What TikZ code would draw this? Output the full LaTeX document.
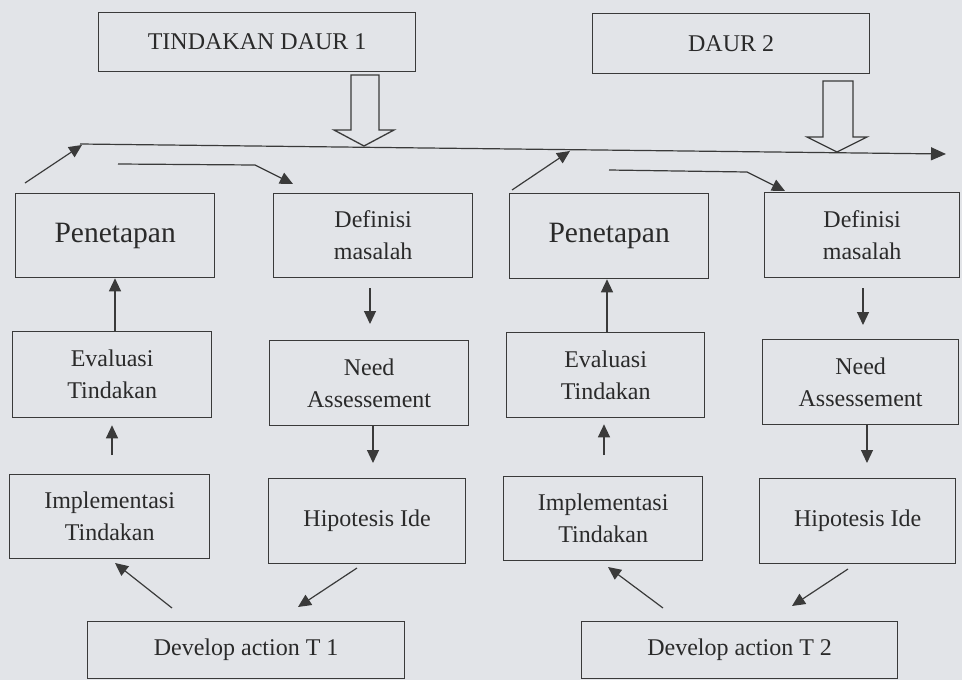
\documentclass[tikz,border=0pt]{standalone}
\usepackage{fontspec}
\setmainfont{Liberation Serif}
\usetikzlibrary{arrows.meta}
\definecolor{bg}{HTML}{E2E4E8}
\definecolor{ink}{HTML}{3A3A3A}
\definecolor{txt}{HTML}{2A2A2A}
\tikzset{
  box/.style={draw=ink, line width=1.3pt, fill=bg, inner sep=0pt, align=center,
    anchor=north west, text=txt, font=\fontsize{24}{32}\selectfont},
  big/.style={font=\fontsize{29.5}{32}\selectfont},
  arr/.style={draw=ink, line width=1.2pt, -{Triangle[length=13pt,width=12pt]}},
  ln/.style={draw=ink, line width=1.2pt},
  blockarr/.style={draw=ink, line width=1.3pt, fill=bg, line join=miter}
}
\begin{document}
\begin{tikzpicture}[x=1pt,y=-1pt]
\fill[bg] (0,0) rectangle (962,680);
\useasboundingbox (0,0) rectangle (962,680);

% ---------- left cycle ----------
\node[box, minimum width=317pt, minimum height=59pt] (t1) at (98,12) {TINDAKAN DAUR 1};
\node[box, big, minimum width=199pt, minimum height=84pt] (p1) at (15,193) {Penetapan};
\node[box, minimum width=199pt, minimum height=84pt] (d1) at (273,193) {Definisi\\masalah};
\node[box, minimum width=199pt, minimum height=86pt] (e1) at (12,331) {Evaluasi\\Tindakan};
\node[box, minimum width=199pt, minimum height=85pt] (n1) at (269,340) {Need\\Assessement};
\node[box, minimum width=200pt, minimum height=84pt] (i1) at (9,474) {Implementasi\\Tindakan};
\node[box, minimum width=197pt, minimum height=85pt] (h1) at (268,478) {Hipotesis Ide};
\node[box, minimum width=317pt, minimum height=57pt] (dv1) at (87,621) {Develop action T 1};

% ---------- right cycle ----------
\node[box, minimum width=277pt, minimum height=60pt] (t2) at (592,13) {DAUR 2};
\node[box, big, minimum width=199pt, minimum height=85pt] (p2) at (509,193) {Penetapan};
\node[box, minimum width=195pt, minimum height=85pt] (d2) at (764,192) {Definisi\\masalah};
\node[box, minimum width=198pt, minimum height=85pt] (e2) at (506,332) {Evaluasi\\Tindakan};
\node[box, minimum width=196pt, minimum height=85pt] (n2) at (762,339) {Need\\Assessement};
\node[box, minimum width=199pt, minimum height=84pt] (i2) at (503,476) {Implementasi\\Tindakan};
\node[box, minimum width=196pt, minimum height=85pt] (h2) at (759,478) {Hipotesis Ide};
\node[box, minimum width=316pt, minimum height=57pt] (dv2) at (581,621) {Develop action T 2};

% ---------- main time line ----------
\coordinate (L0) at (80,144);
\coordinate (L1) at (946,154);
\draw[ln, -{Triangle[length=15pt,width=13pt]}] (L0) -- (L1);

% block arrows
\draw[blockarr] (351,75) -- (379,75) -- (379,130) -- (394,130) -- (364,146) -- (334,130) -- (351,130) -- cycle;
\draw[blockarr] (823,81) -- (853,81) -- (853,137) -- (867,137) -- (837,152) -- (807,137) -- (823,137) -- cycle;

% arrows near top (left)
\coordinate (pa1) at (25,183);
\coordinate (pb1) at (82,145);
\draw[arr] (pa1) -- (pb1);
\coordinate (qa1) at (118,164);
\coordinate (qb1) at (255,165);
\coordinate (qc1) at (293,184);
\draw[arr] (qa1) -- (qb1) -- (qc1);

% arrows near top (right)
\coordinate (pa2) at (512,190);
\coordinate (pb2) at (570,151);
\draw[arr] (pa2) -- (pb2);
\coordinate (qa2) at (609,170);
\coordinate (qb2) at (747,172);
\coordinate (qc2) at (785,191);
\draw[arr] (qa2) -- (qb2) -- (qc2);

% vertical arrows left
\coordinate (x1a) at (115,0);
\draw[arr] (e1.north -| x1a) -- (p1.south -| x1a);
\coordinate (x1b) at (370,0);
\draw[arr, shorten <=10pt, shorten >=16pt] (d1.south -| x1b) -- (n1.north -| x1b);
\coordinate (x1c) at (112,0);
\draw[arr, shorten <=19pt, shorten >=7pt] (i1.north -| x1c) -- (e1.south -| x1c);
\coordinate (x1d) at (373,0);
\draw[arr, shorten >=15pt] (n1.south -| x1d) -- (h1.north -| x1d);

% vertical arrows right
\coordinate (x2a) at (607,0);
\draw[arr] (e2.north -| x2a) -- (p2.south -| x2a);
\coordinate (x2b) at (863,0);
\draw[arr, shorten <=10pt, shorten >=14pt] (d2.south -| x2b) -- (n2.north -| x2b);
\coordinate (x2c) at (604,0);
\draw[arr, shorten <=21pt, shorten >=6pt] (i2.north -| x2c) -- (e2.south -| x2c);
\coordinate (x2d) at (867,0);
\draw[arr, shorten >=15pt] (n2.south -| x2d) -- (h2.north -| x2d);

% diagonal arrows left
\coordinate (da1) at (172,608);
\coordinate (db1) at (115,563);
\draw[arr] (da1) -- (db1);
\coordinate (ha1) at (357,568);
\coordinate (hb1) at (298,607);
\draw[arr] (ha1) -- (hb1);

% diagonal arrows right
\coordinate (da2) at (663,608);
\coordinate (db2) at (608,567);
\draw[arr] (da2) -- (db2);
\coordinate (ha2) at (848,569);
\coordinate (hb2) at (792,606);
\draw[arr] (ha2) -- (hb2);
\end{tikzpicture}
\end{document}
